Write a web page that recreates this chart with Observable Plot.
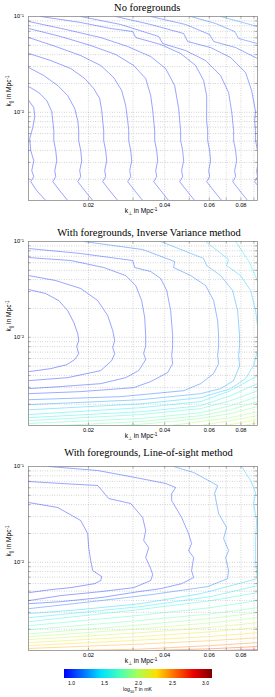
<!DOCTYPE html>
<html><head><meta charset="utf-8">
<script src="https://cdn.jsdelivr.net/npm/d3@7"></script>
<script src="https://cdn.jsdelivr.net/npm/@observablehq/plot@0.6"></script>
<style>
body{margin:0;background:#fff;width:275px;}
svg{display:block}
</style></head><body><div id="chart"></div>
<script>
// ---------- axes / ticks ----------
const xDomain = [0.0116, 0.093];
const yDomain = [0.0012, 0.1];
const xTickValues = [0.02, 0.04, 0.06, 0.08];
const xGridValues = [0.02, 0.03, 0.04, 0.05, 0.06, 0.07, 0.08, 0.09];
const yTickValues = [0.01, 0.1];
const yTickLabels = ["10⁻²", "10⁻¹"];
const yGridValues = [0.002,0.003,0.004,0.005,0.006,0.007,0.008,0.009,0.01,0.02,0.03,0.04,0.05,0.06,0.07,0.08,0.09];
const colorTicks = [1.0, 1.5, 2.0, 2.5, 3.0];
const cmapDomain = [0.9, 1.175, 1.45, 1.725, 2.0, 2.275, 2.55, 2.825, 3.1];
const cmapRange = ["#0000ff","#0070ff","#00e2ff","#45ffba","#aaff56","#ffdf00","#ff6900","#ed0000","#800000"];
const titles = ["No foregrounds", "With foregrounds, Inverse Variance method", "With foregrounds, Line-of-sight method"];

// ---------- contour lines: [k_perp, k_par] ----------
const noFgPaths = [
 [[0.01163,0.01326],[0.01217,0.0112],[0.01228,0.00902],[0.01206,0.00692],[0.01173,0.00531],[0.01184,0.00398],[0.01217,0.00313],[0.01195,0.00246],[0.01217,0.00213],[0.01184,0.00189],[0.0125,0.00152],[0.01357,0.0012]],
 [[0.01163,0.01855],[0.01274,0.01606],[0.0137,0.01326],[0.01433,0.01017],[0.01446,0.00819],[0.0146,0.00644],[0.0146,0.00506],[0.01486,0.00398],[0.015,0.00313],[0.01473,0.00246],[0.01486,0.00213],[0.01446,0.00189],[0.01541,0.00152],[0.01657,0.0012]],
 [[0.01163,0.0293],[0.01333,0.02417],[0.01514,0.019],[0.01657,0.01495],[0.01766,0.01093],[0.01815,0.00819],[0.01831,0.00644],[0.01831,0.00506],[0.01865,0.00398],[0.01882,0.00313],[0.01848,0.00246],[0.01865,0.00213],[0.01815,0.00189],[0.01934,0.00152],[0.0208,0.0012]],
 [[0.01163,0.0411],[0.0142,0.0347],[0.01704,0.0286],[0.01934,0.0225],[0.02099,0.01769],[0.02216,0.0139],[0.02257,0.01042],[0.02277,0.00819],[0.02298,0.00644],[0.02298,0.00506],[0.0234,0.00398],[0.02362,0.00313],[0.02319,0.00246],[0.0234,0.00213],[0.02277,0.00189],[0.02427,0.00152],[0.0261,0.0012]],
 [[0.01163,0.0603],[0.01486,0.0486],[0.01865,0.0391],[0.02237,0.0308],[0.02517,0.02305],[0.02706,0.01686],[0.02807,0.01175],[0.02858,0.00819],[0.02885,0.00644],[0.02885,0.00506],[0.02937,0.00398],[0.02964,0.00313],[0.02911,0.00246],[0.02937,0.00213],[0.02858,0.00189],[0.03046,0.00152],[0.03275,0.0012]],
 [[0.01163,0.0749],[0.01555,0.0618],[0.02042,0.0498],[0.02563,0.0401],[0.03019,0.0308],[0.03366,0.0225],[0.03523,0.01495],[0.03588,0.01042],[0.0362,0.00819],[0.03653,0.00644],[0.03653,0.00506],[0.0372,0.00398],[0.03754,0.00313],[0.03686,0.00246],[0.0372,0.00213],[0.0362,0.00189],[0.03858,0.00152],[0.04148,0.0012]],
 [[0.01163,0.0887],[0.01628,0.0732],[0.02237,0.0603],[0.02858,0.0486],[0.03523,0.0382],[0.04037,0.0286],[0.0438,0.019],[0.04543,0.01093],[0.04584,0.00819],[0.04625,0.00644],[0.04625,0.00506],[0.0471,0.00398],[0.04752,0.00313],[0.04667,0.00246],[0.0471,0.00213],[0.04584,0.00189],[0.04886,0.00152],[0.05252,0.0012]],
 [[0.01296,0.1],[0.01865,0.0866],[0.02449,0.0749],[0.02991,0.0697],[0.03074,0.0603],[0.03858,0.051],[0.04625,0.0411],[0.053,0.0308],[0.057,0.02144],[0.05858,0.01495],[0.05858,0.01017],[0.05858,0.00819],[0.05912,0.00644],[0.05912,0.00506],[0.0602,0.00398],[0.06073,0.00313],[0.05967,0.00246],[0.0602,0.00213],[0.05858,0.00189],[0.06242,0.00152],[0.06714,0.0012]],
 [[0.01865,0.1],[0.02682,0.0825],[0.03788,0.0618],[0.03927,0.0522],[0.0484,0.0441],[0.05804,0.0347],[0.0665,0.02417],[0.07154,0.01606],[0.07352,0.01017],[0.07418,0.00819],[0.07486,0.00644],[0.07486,0.00506],[0.07621,0.00398],[0.07692,0.00313],[0.07556,0.00246],[0.07621,0.00213],[0.07418,0.00189],[0.07908,0.00152],[0.085,0.0012]],
 [[0.02563,0.1],[0.03523,0.0825],[0.04752,0.0665],[0.0493,0.0548],[0.06073,0.0474],[0.07283,0.0373],[0.08346,0.026],[0.08816,0.01686],[0.0914,0.01017],[0.0906,0.00819],[0.0914,0.00644],[0.0914,0.00506],[0.093,0.00398],[0.0939,0.00313],[0.09226,0.00246],[0.093,0.00213],[0.0906,0.00189],[0.0965,0.00152],[0.1056,0.0012]],
 [[0.03523,0.1],[0.0484,0.0825],[0.0602,0.0648],[0.06242,0.0548],[0.07621,0.0474],[0.093,0.0364],[0.1096,0.0286]],
 [[0.05064,0.1],[0.06356,0.0845],[0.07556,0.0697],[0.07834,0.0589],[0.093,0.0522],[0.1096,0.0441]],
 [[0.0665,0.1],[0.093,0.0786],[0.11,0.07]]
];
const noFgLevels = [0.95,0.955,0.96,0.965,0.97,0.975,0.98,0.985,0.99,1.0,1.03,1.1,1.22];

const ivPaths = [
 [[0.01163,0.0315],[0.01357,0.0286],[0.01527,0.02417],[0.01657,0.019],[0.01751,0.01425],[0.01815,0.01093],[0.01831,0.00924],[0.01798,0.008],[0.01831,0.00675],[0.01766,0.00585],[0.01643,0.00518],[0.0142,0.00471],[0.01163,0.00438]],
 [[0.01163,0.0441],[0.01486,0.0391],[0.01865,0.0323],[0.02177,0.02417],[0.02383,0.01686],[0.02494,0.01175],[0.0254,0.00924],[0.02494,0.0078],[0.0254,0.00675],[0.02471,0.00571],[0.02237,0.00449],[0.01657,0.00379],[0.01163,0.00353]],
 [[0.01163,0.068],[0.01704,0.0633],[0.02298,0.0535],[0.02807,0.0441],[0.03074,0.0347],[0.03245,0.02417],[0.03336,0.01606],[0.03366,0.01042],[0.03366,0.00819],[0.03305,0.00675],[0.03366,0.00585],[0.03158,0.00449],[0.02807,0.00379],[0.02237,0.00328],[0.01555,0.00306],[0.01163,0.00291]],
 [[0.01163,0.0845],[0.01865,0.0749],[0.02991,0.0633],[0.03046,0.0535],[0.03523,0.0486],[0.03858,0.0411],[0.04074,0.0308],[0.04224,0.019],[0.04301,0.01042],[0.04301,0.00819],[0.04262,0.00644],[0.04301,0.00531],[0.0411,0.00428],[0.03523,0.00345],[0.03019,0.00298],[0.01865,0.00271],[0.01163,0.00258]],
 [[0.01916,0.1],[0.03275,0.0825],[0.0438,0.0618],[0.0434,0.0535],[0.05064,0.0441],[0.05804,0.0347],[0.06242,0.02417],[0.06472,0.01495],[0.06531,0.01042],[0.06531,0.00819],[0.06472,0.00644],[0.06531,0.00531],[0.06242,0.00418],[0.05546,0.00328],[0.04753,0.00277],[0.02682,0.0024],[0.01163,0.00223]],
 [[0.03858,0.1],[0.05699,0.0665],[0.05858,0.0561],[0.0665,0.0441],[0.07418,0.0308],[0.0776,0.019],[0.07904,0.01042],[0.07904,0.00819],[0.07832,0.00644],[0.07904,0.00506],[0.07484,0.00353],[0.0665,0.00291],[0.05546,0.00258],[0.03216,0.00223],[0.01163,0.00198]],
 [[0.05804,0.1],[0.07154,0.0648],[0.07023,0.0561],[0.07976,0.0441],[0.08734,0.0308],[0.0914,0.019],[0.093,0.01326],[0.093,0.00726],[0.08975,0.00506],[0.08346,0.0037],[0.07283,0.00291],[0.05546,0.00234],[0.03216,0.00202],[0.01163,0.00175]],
 [[0.07621,0.1],[0.08655,0.0603],[0.08813,0.0535],[0.093,0.0391],[0.1096,0.01326],[0.093,0.00398],[0.07283,0.00277],[0.05546,0.00213],[0.03216,0.00184],[0.01163,0.00156]],
 [[0.093,0.00328],[0.07283,0.00246],[0.05546,0.00193],[0.03216,0.00167],[0.01163,0.00145]],
 [[0.093,0.00277],[0.07283,0.00218],[0.05546,0.0018],[0.03216,0.00156],[0.01163,0.00135]],
 [[0.093,0.0024],[0.07283,0.00193],[0.05546,0.00163],[0.03216,0.00142],[0.01163,0.00126]],
 [[0.093,0.00213],[0.07283,0.00175],[0.05546,0.00152],[0.03216,0.00132],[0.01555,0.0012],[0.0125,0.00113]],
 [[0.093,0.00189],[0.07283,0.0016],[0.05546,0.00142],[0.03523,0.00126],[0.02682,0.0012],[0.02,0.00112]],
 [[0.093,0.00167],[0.07283,0.00145],[0.05546,0.00132],[0.04224,0.0012],[0.035,0.00113]],
 [[0.093,0.00152],[0.07283,0.00135],[0.05546,0.0012],[0.048,0.00113]],
 [[0.093,0.00138],[0.0696,0.0012],[0.063,0.00114]],
 [[0.093,0.00129],[0.08195,0.0012],[0.076,0.00113]]
];
const ivLevels = [0.95,0.97,0.99,1.02,1.12,1.25,1.38,1.5,1.58,1.66,1.73,1.8,1.87,1.94,2.0,2.06,2.12];

const losPaths = [
 [[0.01163,0.042],[0.01514,0.0373],[0.01865,0.0273],[0.01987,0.0199],[0.02005,0.01425],[0.02042,0.01042],[0.02079,0.00819],[0.02257,0.00709],[0.02237,0.00644],[0.02119,0.00599],[0.01704,0.00544],[0.0142,0.00518],[0.01163,0.00482]],
 [[0.01163,0.0697],[0.01555,0.0665],[0.02177,0.0633],[0.02405,0.0463],[0.02937,0.0411],[0.03275,0.0293],[0.03366,0.02144],[0.03305,0.01686],[0.0346,0.01425],[0.03366,0.0112],[0.03523,0.00859],[0.03588,0.00744],[0.03523,0.00644],[0.03019,0.00544],[0.02237,0.00494],[0.01555,0.00449],[0.01163,0.00398]],
 [[0.01394,0.1],[0.02177,0.0908],[0.03216,0.0749],[0.04037,0.0665],[0.0442,0.0603],[0.04262,0.0522],[0.04262,0.0441],[0.04667,0.0293],[0.04973,0.0199],[0.0511,0.01569],[0.04973,0.01326],[0.05204,0.0112],[0.0511,0.00819],[0.05204,0.00692],[0.04667,0.00598],[0.03858,0.00531],[0.03158,0.00494],[0.02237,0.00428],[0.01555,0.00388],[0.01163,0.0037]],
 [[0.0434,0.1],[0.05204,0.0866],[0.06472,0.0633],[0.06299,0.0522],[0.06531,0.0323],[0.07023,0.02305],[0.06834,0.01769],[0.07154,0.01326],[0.0696,0.0112],[0.07154,0.00819],[0.07087,0.00675],[0.0591,0.00557],[0.03523,0.00459],[0.02237,0.00398],[0.01163,0.00328]],
 [[0.08049,0.1],[0.08734,0.0714],[0.0914,0.0535],[0.08974,0.0411],[0.09223,0.0273],[0.0914,0.01686],[0.0914,0.01042],[0.09223,0.0078],[0.093,0.00675],[0.05546,0.0047],[0.03216,0.0037],[0.01865,0.00321],[0.01163,0.00291]],
 [[0.093,0.00571],[0.06073,0.00438],[0.03216,0.00345],[0.01163,0.00264]],
 [[0.093,0.00482],[0.06073,0.00397],[0.03216,0.00322],[0.01163,0.0024]],
 [[0.093,0.00398],[0.06073,0.00336],[0.03216,0.0028],[0.01163,0.00218]],
 [[0.093,0.00336],[0.06073,0.00289],[0.03216,0.00247],[0.01163,0.00198]],
 [[0.093,0.00298],[0.06073,0.00259],[0.03216,0.00222],[0.01163,0.00179]],
 [[0.093,0.00264],[0.06073,0.00233],[0.03216,0.00202],[0.01163,0.00167]],
 [[0.093,0.00234],[0.06073,0.00209],[0.03216,0.00184],[0.01163,0.00156]],
 [[0.093,0.00208],[0.06073,0.00188],[0.03216,0.00168],[0.01163,0.00145]],
 [[0.093,0.00184],[0.06073,0.00168],[0.03216,0.00154],[0.01163,0.00135]],
 [[0.093,0.00163],[0.06073,0.00152],[0.03216,0.0014],[0.01163,0.00126]],
 [[0.093,0.00145],[0.06073,0.00135],[0.03216,0.00124],[0.01704,0.0012],[0.01296,0.00114]],
 [[0.093,0.00132],[0.06073,0.00125],[0.03523,0.0012],[0.02682,0.00116]],
 [[0.093,0.00123],[0.0665,0.0012],[0.05064,0.00117]]
];
const losLevels = [0.95,0.97,0.99,1.15,1.4,1.5,1.6,1.7,1.8,1.9,2.0,2.1,2.2,2.3,2.4,2.5,2.62,2.75];

// ---------- rendering ----------
const SANS = "'Liberation Sans', Arial, Helvetica, sans-serif";
const SERIF = "'Liberation Serif', 'Times New Roman', serif";
const XLABEL = "k⊥ in Mpc⁻¹";
const YLABEL = "k∥ in Mpc⁻¹";

function rows(paths, levels) {
  return paths.flatMap((p, i) => p.map(([x, y]) => ({x, y, level: levels[i], id: i})));
}

function panel({paths, levels, title, titleDy, titleDx, height, marginTop, marginBottom}) {
  const tickStyle = {stroke: "#666", strokeWidth: 0.5};
  const svg = Plot.plot({
    width: 275, height, marginLeft: 28, marginRight: 18, marginTop, marginBottom,
    style: {background: "white", fontFamily: SANS, overflow: "visible"},
    x: {type: "log", domain: xDomain, axis: null},
    y: {type: "log", domain: yDomain, axis: null},
    color: {type: "linear", domain: cmapDomain, range: cmapRange, clamp: true},
    marks: [
      Plot.gridX(xGridValues, {stroke: "#a8a8a8", strokeOpacity: 1, strokeWidth: 0.6, strokeDasharray: "0.8,1.6"}),
      Plot.gridY(yGridValues, {stroke: "#a8a8a8", strokeOpacity: 1, strokeWidth: 0.6, strokeDasharray: "0.8,1.6"}),
      Plot.line(rows(paths, levels), {x: "x", y: "y", z: "id", stroke: "level", strokeWidth: 0.8, strokeOpacity: 0.5, clip: true}),
      Plot.frame({stroke: "#8c8c8c", strokeWidth: 0.8}),
      Plot.tickY(yGridValues, {insetRight: 226.5, ...tickStyle}),
      Plot.tickY(yGridValues, {insetLeft: 226.5, ...tickStyle}),
      Plot.tickX(xGridValues, {insetTop: 181.5, ...tickStyle}),
      Plot.tickX(xGridValues, {insetBottom: 181.5, ...tickStyle}),
      Plot.axisX({ticks: xTickValues, tickFormat: d3.format(".2f"), tickSize: 0, tickPadding: 2, fontSize: 5.7, label: null}),
      Plot.axisY({ticks: yTickValues, tickFormat: d => yTickLabels[yTickValues.indexOf(d)], tickSize: 0, tickPadding: 4.5, fontSize: 5.7, label: null}),
      Plot.text([title], {text: d => d, frameAnchor: "top", dy: titleDy, dx: titleDx, fontFamily: SERIF, fontSize: 10.5, lineAnchor: "middle"}),
      Plot.text([XLABEL], {text: d => d, frameAnchor: "bottom", dy: 10.5, dx: -2, fontSize: 6.6, lineAnchor: "middle"}),
      Plot.text([YLABEL], {text: d => d, frameAnchor: "left", dx: -19.5, dy: -2, rotate: -90, fontSize: 6.6, lineAnchor: "middle"})
    ]
  });
  for (const t of svg.querySelectorAll("text")) {
    const s = t.textContent;
    if (s === XLABEL) t.innerHTML = 'k<tspan dy="1.8" font-size="4.6">⊥</tspan><tspan dy="-1.8"> in Mpc</tspan><tspan dy="-2.6" font-size="4.6">-1</tspan>';
    else if (s === YLABEL) t.innerHTML = 'k<tspan dy="1.8" font-size="4.6">||</tspan><tspan dy="-1.8"> in Mpc</tspan><tspan dy="-2.6" font-size="4.6">-1</tspan>';
  }
  return svg;
}

const chart = document.getElementById("chart");
chart.append(panel({paths: noFgPaths, levels: noFgLevels, title: titles[0], titleDy: -9.3, titleDx: 4.2, height: 225, marginTop: 16, marginBottom: 25}));
chart.append(panel({paths: ivPaths, levels: ivLevels, title: titles[1], titleDy: -9.3, titleDx: 6, height: 220, marginTop: 16, marginBottom: 20}));
chart.append(panel({paths: losPaths, levels: losLevels, title: titles[2], titleDy: -14, titleDx: 5.5, height: 223, marginTop: 21, marginBottom: 18}));

const legend = Plot.legend({
  legend: "ramp",
  color: {type: "linear", domain: cmapDomain, range: cmapRange},
  width: 275, height: 29, marginTop: 1, marginBottom: 19, marginLeft: 64, marginRight: 63,
  ticks: colorTicks, tickFormat: d3.format(".1f"), tickSize: 0, label: null,
  style: {fontSize: "5px", fontFamily: SANS, background: "white"}
});
d3.select(legend).selectAll(".tick line").remove();
d3.select(legend).append("text")
  .attr("x", 137.5).attr("y", 23.3).attr("text-anchor", "middle")
  .attr("font-size", 5.2).attr("fill", "black")
  .html('log<tspan dy="1.3" font-size="3.8">10</tspan><tspan dy="-1.3">T in mK</tspan>');
chart.append(legend);
</script></body></html>
